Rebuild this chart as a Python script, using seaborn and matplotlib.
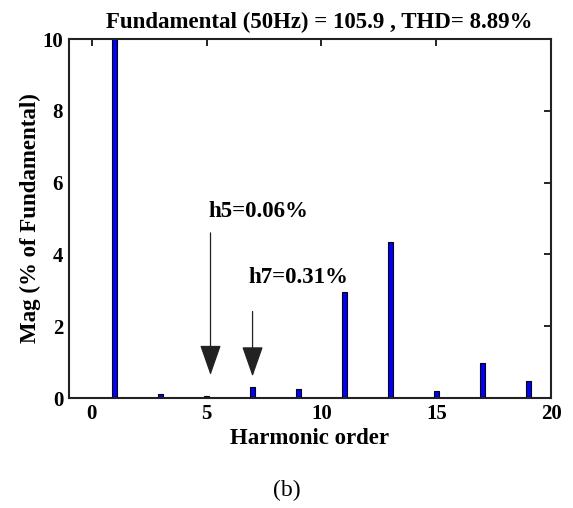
import numpy as np
import pandas as pd
import matplotlib
matplotlib.use('Agg')
import matplotlib.pyplot as plt
import seaborn as sns

# harmonic spectrum (% of fundamental)
orders = [1, 3, 5, 7, 9, 11, 13, 15, 17, 19]
mags = [100.0, 0.10, 0.06, 0.31, 0.25, 2.95, 4.35, 0.20, 0.97, 0.48]
xticks = [0, 5, 10, 15, 20]
yticks = [0, 2, 4, 6, 8, 10]

sns.set_style('white')
plt.rcParams['font.family'] = ['Liberation Serif', 'DejaVu Serif']
plt.rcParams['font.weight'] = 'bold'
plt.rcParams['text.color'] = 'black'
plt.rcParams['axes.labelcolor'] = 'black'

df = pd.DataFrame({'order': orders, 'mag': mags})

fig = plt.figure(figsize=(5.73, 5.08), dpi=100)
ax = fig.add_axes([0.120, 0.2165, 0.842, 0.7067])

sns.barplot(data=df, x='order', y='mag', native_scale=True, width=0.11,
            color='#0000ff', saturation=1, edgecolor='black', linewidth=0.8, ax=ax)

ax.set_xlim(-1, 20)
ax.set_ylim(0, 10)
ax.set_xticks(xticks)
ax.set_yticks(yticks)
ax.tick_params(direction='in', length=5, width=1.2, top=True, right=True,
               labelsize=15, pad=4, colors='black')
for lbl in ax.get_xticklabels() + ax.get_yticklabels():
    lbl.set_fontweight('bold')
for sp in ax.spines.values():
    sp.set_visible(True)
    sp.set_linewidth(1.5)
    sp.set_color('#222222')

ax.set_xlabel('Harmonic order', fontsize=16.5, fontweight='bold', labelpad=3)
ax.set_ylabel('Mag (% of Fundamental)', fontsize=16.5, fontweight='bold', labelpad=1)
ax.set_title('Fundamental (50Hz) = 105.9 , THD= 8.89%', fontsize=16.5,
             fontweight='bold', pad=8, x=0.52)

arrow = dict(arrowstyle='-|>,head_length=1.2,head_width=0.42', color='#222222',
             lw=0.9, mutation_scale=16, shrinkA=0, shrinkB=0)
ax.annotate('', xy=(5.17, 0.64), xytext=(5.17, 4.6), arrowprops=arrow)
ax.annotate('', xy=(7.0, 0.6), xytext=(7.0, 2.41), arrowprops=arrow)
ax.text(5.1, 5.2, 'h5=0.06%', fontsize=16.5, fontweight='bold', va='center', ha='left')
ax.text(6.8, 3.35, 'h7=0.31%', fontsize=16.5, fontweight='bold', va='center', ha='left')

fig.text(0.5, 0.035, '(b)', fontsize=17, fontweight='normal', ha='center', va='center')

fig.savefig('out.png', dpi=100)
